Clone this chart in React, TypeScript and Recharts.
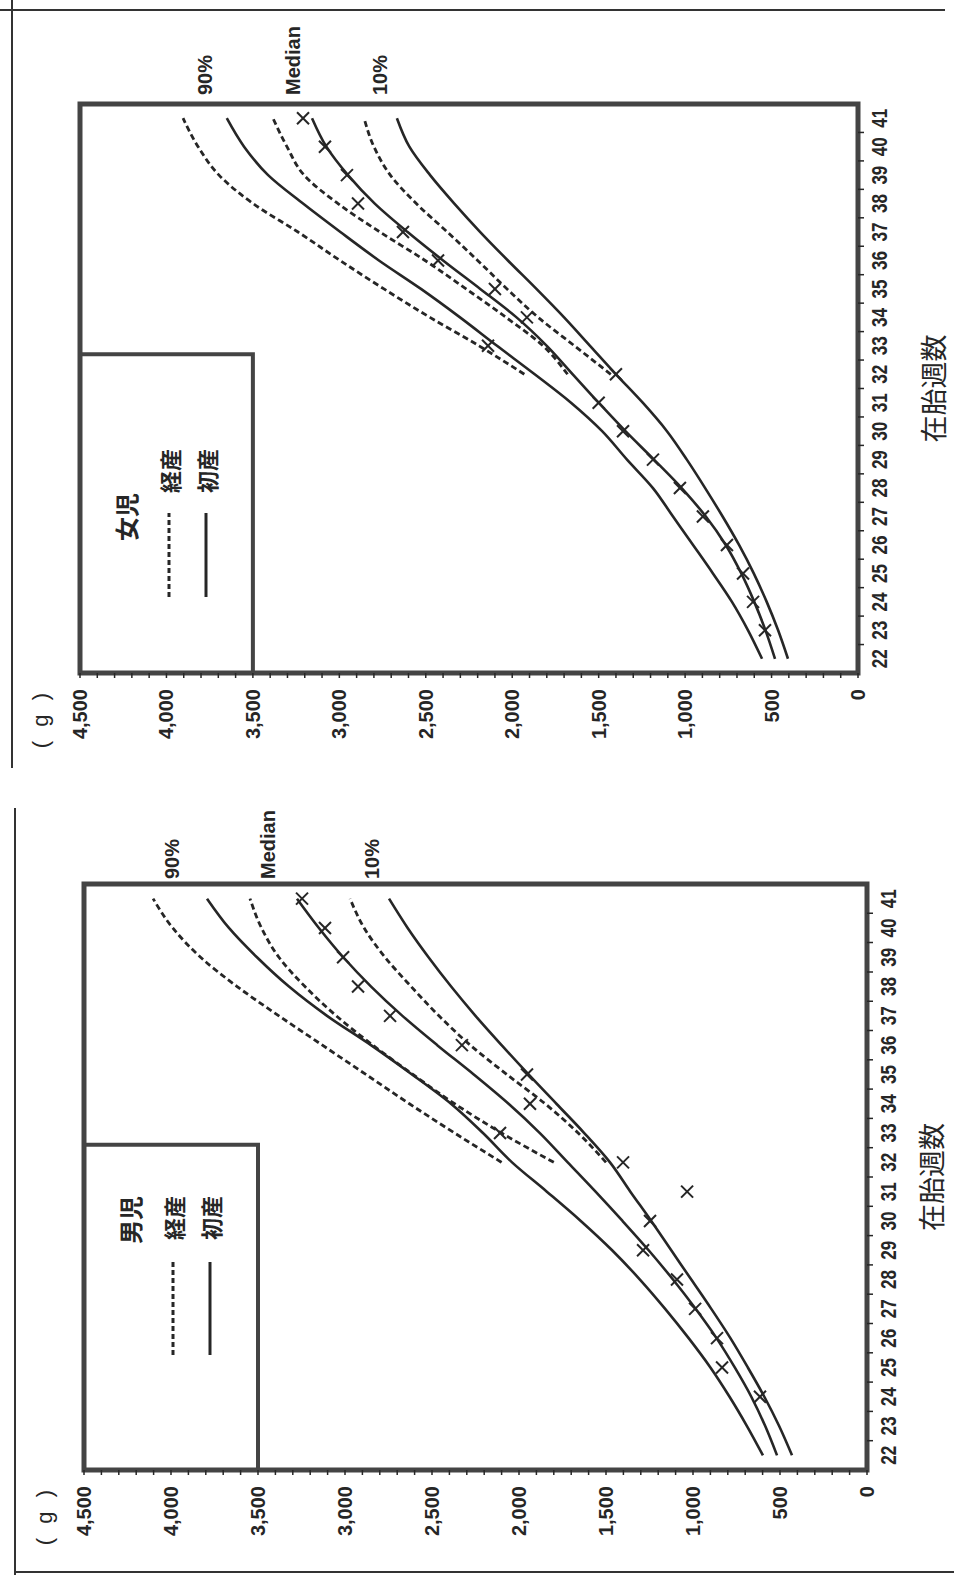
import React from "react";
import { ComposedChart, Line, XAxis, YAxis, ReferenceArea, ReferenceDot, Label } from "recharts";

// 在胎週数 (category centres) and the band edges used for the small tick marks
const weeks = [22, 23, 24, 25, 26, 27, 28, 29, 30, 31, 32, 33, 34, 35, 36, 37, 38, 39, 40, 41];
const weekBounds = [22.5, 23.5, 24.5, 25.5, 26.5, 27.5, 28.5, 29.5, 30.5, 31.5, 32.5, 33.5, 34.5, 35.5, 36.5, 37.5, 38.5, 39.5, 40.5];
const gramTicks = [
  0, 100, 200, 300, 400, 500, 600, 700, 800, 900, 1000, 1100, 1200, 1300, 1400, 1500,
  1600, 1700, 1800, 1900, 2000, 2100, 2200, 2300, 2400, 2500, 2600, 2700, 2800, 2900, 3000,
  3100, 3200, 3300, 3400, 3500, 3600, 3700, 3800, 3900, 4000, 4100, 4200, 4300, 4400, 4500,
];
const pctNames = ["90%", "Median", "10%"];
const legendNames = ["経産", "初産"];

// 男児 (boys) – 初産 solid
const boyFirst90 = [598, 690, 790, 900, 1025, 1160, 1305, 1465, 1645, 1840, 2040, 2207, 2391, 2615, 2851, 3103, 3322, 3506, 3667, 3793];
const boyFirst50 = [517, 585, 665, 760, 865, 985, 1115, 1255, 1405, 1560, 1720, 1880, 2060, 2260, 2470, 2670, 2850, 3010, 3150, 3276];
const boyFirst10 = [431, 505, 590, 685, 785, 895, 1010, 1125, 1240, 1360, 1477, 1625, 1785, 1945, 2100, 2250, 2390, 2520, 2640, 2747];
// 男児 – 経産 dashed
const boyMulti90 = [null, null, null, null, null, null, null, null, null, null, 2100, 2370, 2630, 2880, 3130, 3380, 3620, 3830, 3990, 4103];
const boyMulti50 = [null, null, null, null, null, null, null, null, null, null, 1800, 2100, 2370, 2610, 2840, 3050, 3230, 3380, 3480, 3546];
const boyMulti10 = [null, null, null, null, null, null, null, null, null, null, 1500, 1660, 1850, 2070, 2280, 2460, 2620, 2770, 2890, 2971];
const boyMarks = [null, null, 615, 833, 862, 988, 1092, 1287, 1247, 1034, 1402, 2109, 1937, 1954, 2328, 2741, 2925, 3011, 3115, 3247];
const boyPctAt = [3994, 3442, 2845];

// 女児 (girls) – 初産 solid
const girlFirst90 = [555, 636, 729, 839, 954, 1070, 1186, 1336, 1480, 1660, 1870, 2088, 2302, 2528, 2771, 2994, 3210, 3412, 3551, 3651];
const girlFirst50 = [480, 535, 600, 675, 765, 880, 1020, 1180, 1345, 1500, 1650, 1800, 1975, 2185, 2400, 2605, 2795, 2950, 3075, 3158];
const girlFirst10 = [405, 462, 528, 603, 688, 783, 884, 990, 1105, 1245, 1400, 1550, 1700, 1860, 2025, 2185, 2335, 2475, 2595, 2667];
// 女児 – 経産 dashed
const girlMulti90 = [null, null, null, null, null, null, null, null, null, null, 1930, 2192, 2476, 2742, 2996, 3239, 3499, 3696, 3817, 3904];
const girlMulti50 = [null, null, null, null, null, null, null, null, null, null, 1680, 1822, 2036, 2267, 2504, 2765, 3008, 3204, 3303, 3384];
const girlMulti10 = [null, null, null, null, null, null, null, null, null, null, 1430, 1640, 1850, 2030, 2200, 2375, 2555, 2705, 2800, 2857];
const girlMarks = [null, 538, 607, 665, 758, 897, 1030, 1186, 1359, 1500, 1400, 2140, 1915, 2100, 2429, 2632, 2892, 2956, 3083, 3210];
const girlPctAt = [3777, 3268, 2765];

const LAT = "'Liberation Sans', Arial, sans-serif";
const CJK = "'Noto Sans CJK JP', sans-serif";
const INK = "#262626";

function buildRows(s90: any[], s50: any[], s10: any[], d90: any[], d50: any[], d10: any[], marks: any[]) {
  return weeks.map((w, i) => ({
    week: w,
    s90: s90[i],
    s50: s50[i],
    s10: s10[i],
    d90: d90[i],
    d50: d50[i],
    d10: d10[i],
    mark: marks[i],
  }));
}

const renderWeekTick = (props: any) => {
  const { x, y, payload } = props;
  const v = payload.value;
  if (Number.isInteger(v)) {
    return (
      <text x={x} y={y + 29} textAnchor="middle" fontSize={22} fontWeight="bold" fontFamily={LAT} fill={INK}
        textLength={19} lengthAdjust="spacingAndGlyphs">
        {v}
      </text>
    );
  }
  return <line x1={x} x2={x} y1={y} y2={y + 6} stroke={INK} strokeWidth={1.5} />;
};

const renderGramTick = (props: any) => {
  const { x, y, payload } = props;
  const v = payload.value;
  const major = v % 500 === 0;
  return (
    <g>
      <line x1={x - 5} x2={x} y1={y} y2={y} stroke={INK} strokeWidth={1.5} />
      {major && (
        <text x={x - 16} y={y} textAnchor="end" dominantBaseline="central" fontSize={20} fontWeight="bold" fontFamily={LAT} fill={INK}>
          {v.toLocaleString("en-US")}
        </text>
      )}
    </g>
  );
};

const renderCross = (props: any) => {
  const { cx, cy, index, value } = props;
  if (value == null || cx == null || cy == null) return <g key={`m-${index}`} />;
  return (
    <g key={`m-${index}`}>
      <line x1={cx - 6} y1={cy - 6} x2={cx + 6} y2={cy + 6} stroke={INK} strokeWidth={2} />
      <line x1={cx - 6} y1={cy + 6} x2={cx + 6} y2={cy - 6} stroke={INK} strokeWidth={2} />
    </g>
  );
};

function GrowthChart({ title, rows, pctAt, lay }: any) {
  const legend = (p: any) => {
    const { x, y } = p.viewBox;
    return (
      <g>
        <text x={x + lay.titleX} y={y + 45} textAnchor="middle" dominantBaseline="central" fontSize={24} fontWeight="bold" fontFamily={CJK} fill={INK}>
          {title}
        </text>
        <line x1={x + lay.lineX1} x2={x + lay.lineX2} y1={y + 89} y2={y + 89} stroke={INK} strokeWidth={3} strokeDasharray="5 3" />
        <text x={x + lay.textX} y={y + 89} dominantBaseline="central" fontSize={22} fontWeight="bold" fontFamily={CJK} fill={INK}>
          {legendNames[0]}
        </text>
        <line x1={x + lay.lineX1} x2={x + lay.lineX2} y1={y + 126} y2={y + 126} stroke={INK} strokeWidth={3} />
        <text x={x + lay.textX} y={y + 126} dominantBaseline="central" fontSize={22} fontWeight="bold" fontFamily={CJK} fill={INK}>
          {legendNames[1]}
        </text>
      </g>
    );
  };

  return (
    <ComposedChart width={lay.width} height={954} data={rows} margin={lay.margin}>
      <XAxis type="number" dataKey="week" domain={[21.5, 41.5]} ticks={[...weeks, ...weekBounds]} interval={0}
        tick={renderWeekTick} tickLine={false} axisLine={false} tickSize={0} tickMargin={0} height={lay.xh}>
        <Label value="在胎週数" position="insideBottom" offset={lay.xlo} fontSize={27} fontFamily={CJK} fill={INK} />
      </XAxis>
      <YAxis type="number" domain={[0, 4500]} ticks={gramTicks} interval={0} width={70} tick={renderGramTick}
        tickLine={false} axisLine={false} tickSize={0} tickMargin={0}>
        <Label
          content={(p: any) => (
            <text x={p.viewBox.x + p.viewBox.width - 16} y={p.viewBox.y - 40} textAnchor="end" dominantBaseline="central"
              fontSize={22} fontFamily={LAT} fill={INK} letterSpacing={4}>
              ( g )
            </text>
          )}
        />
      </YAxis>

      <Line type="monotone" dataKey="d90" stroke={INK} strokeWidth={2.8} strokeDasharray="6 3.5" dot={false} activeDot={false} isAnimationActive={false} />
      <Line type="monotone" dataKey="d50" stroke={INK} strokeWidth={2.8} strokeDasharray="6 3.5" dot={false} activeDot={false} isAnimationActive={false} />
      <Line type="monotone" dataKey="d10" stroke={INK} strokeWidth={2.8} strokeDasharray="6 3.5" dot={false} activeDot={false} isAnimationActive={false} />
      <Line type="monotone" dataKey="s90" stroke={INK} strokeWidth={2.6} dot={false} activeDot={false} isAnimationActive={false} />
      <Line type="monotone" dataKey="s50" stroke={INK} strokeWidth={2.6} dot={false} activeDot={false} isAnimationActive={false} />
      <Line type="monotone" dataKey="s10" stroke={INK} strokeWidth={2.6} dot={false} activeDot={false} isAnimationActive={false} />
      <Line dataKey="mark" stroke="none" dot={renderCross} activeDot={false} isAnimationActive={false} />

      <ReferenceArea x1={21.5} x2={lay.legendEnd} y1={3500} y2={4500} fill="#fff" fillOpacity={1} stroke="#444" strokeWidth={4}
        label={legend} />
      <ReferenceArea x1={21.5} x2={41.5} y1={0} y2={4500} fill="none" stroke="#444" strokeWidth={5} />

      {pctAt.map((g: number, i: number) => (
        <ReferenceDot key={pctNames[i]} x={41.5} y={g} r={1} fill="none" stroke="none" ifOverflow="visible"
          label={{ value: pctNames[i], position: "right", offset: lay.pm, fontSize: 20, fontWeight: "bold", fill: INK, fontFamily: LAT }} />
      ))}
    </ComposedChart>
  );
}

const boyLayout = {
  width: 787,
  margin: { top: 84, right: 96, bottom: 0, left: 35 },
  xh: 87,
  xlo: 12,
  pm: 4,
  legendEnd: 32.6,
  titleX: 250,
  lineX1: 115,
  lineX2: 208,
  textX: 230,
};

const girlLayout = {
  width: 788,
  margin: { top: 80, right: 104, bottom: 6, left: 45 },
  xh: 90,
  xlo: 4,
  pm: 8,
  legendEnd: 32.7,
  titleX: 156,
  lineX1: 76,
  lineX2: 160,
  textX: 180,
};

const boyRows = buildRows(boyFirst90, boyFirst50, boyFirst10, boyMulti90, boyMulti50, boyMulti10, boyMarks);
const girlRows = buildRows(girlFirst90, girlFirst50, girlFirst10, girlMulti90, girlMulti50, girlMulti10, girlMarks);

export default function App() {
  return (
    <div style={{ position: "absolute", left: 0, top: 0, width: 954, height: 1575, overflow: "hidden", background: "#fff" }}>
      {/* scan borders */}
      <div style={{ position: "absolute", left: 0, top: 9, width: 945, height: 2, background: "#333" }} />
      <div style={{ position: "absolute", left: 11, top: 0, width: 2, height: 768, background: "#333" }} />
      <div style={{ position: "absolute", left: 14, top: 808, width: 2, height: 767, background: "#333" }} />
      <div style={{ position: "absolute", left: 15, top: 1571, width: 939, height: 2, background: "#333" }} />

      {/* the page is printed sideways */}
      <div style={{ position: "absolute", left: 0, top: 0, width: 1575, height: 954, transformOrigin: "0 0", transform: "translateY(1575px) rotate(-90deg)" }}>
        <div style={{ position: "absolute", left: 0, top: 0 }}>
          <GrowthChart title="男児" rows={boyRows} pctAt={boyPctAt} lay={boyLayout} />
        </div>
        <div style={{ position: "absolute", left: 787, top: 0 }}>
          <GrowthChart title="女児" rows={girlRows} pctAt={girlPctAt} lay={girlLayout} />
        </div>
      </div>
    </div>
  );
}
